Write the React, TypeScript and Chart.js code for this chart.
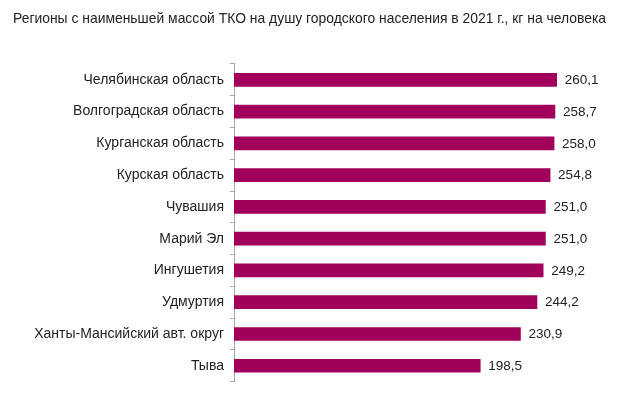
import React, { useEffect, useRef } from "react";
import { Chart, registerables } from "chart.js";

Chart.register(...registerables);

const TITLE = "Регионы с наименьшей массой ТКО на душу городского населения в 2021 г., кг на человека";
const REGIONS = [
  "Челябинская область",
  "Волгоградская область",
  "Курганская область",
  "Курская область",
  "Чувашия",
  "Марий Эл",
  "Ингушетия",
  "Удмуртия",
  "Ханты-Мансийский авт. округ",
  "Тыва",
];
const VALUES = [260.1, 258.7, 258.0, 254.8, 251.0, 251.0, 249.2, 244.2, 230.9, 198.5];

const BAR_COLOR = "#A1005B";
const TEXT_COLOR = "#222222";
const LABEL_FONT = "'Liberation Sans', Arial, sans-serif";

const valueLabels = {
  id: "valueLabels",
  afterDatasetsDraw(chart: any) {
    const ctx = chart.ctx;
    const meta = chart.getDatasetMeta(0);
    ctx.save();
    ctx.font = `13.5px ${LABEL_FONT}`;
    ctx.fillStyle = TEXT_COLOR;
    ctx.textAlign = "left";
    ctx.textBaseline = "middle";
    meta.data.forEach((bar: any, i: number) => {
      const v = VALUES[i];
      ctx.fillText(v.toFixed(1).replace(".", ","), bar.x + 8, bar.y + 0.5);
    });
    ctx.restore();
  },
};

export default function App() {
  const ref = useRef<HTMLCanvasElement | null>(null);
  useEffect(() => {
    document.body.style.margin = "0";
    const chart = new Chart(ref.current!, {
      type: "bar",
      data: {
        labels: REGIONS,
        datasets: [
          {
            data: VALUES,
            backgroundColor: BAR_COLOR,
            barThickness: 13,
          },
        ],
      },
      options: {
        indexAxis: "y",
        animation: false,
        responsive: false,
        layout: { padding: { left: 13, right: 8, top: 0, bottom: 12 } },
        plugins: {
          legend: { display: false },
          tooltip: { enabled: false },
          title: {
            display: true,
            text: TITLE,
            align: "start",
            color: TEXT_COLOR,
            font: { family: LABEL_FONT, size: 13.9, weight: "normal" },
            padding: { top: 11, bottom: 36.3 },
          },
        },
        scales: {
          x: { display: false, min: 0, max: 320 },
          y: {
            afterFit(scale: any) {
              scale.width = 221;
            },
            grid: {
              offset: true,
              drawOnChartArea: false,
              tickLength: 4,
              color: "#a6a6a6",
            },
            border: { color: "#a6a6a6" },
            ticks: {
              color: TEXT_COLOR,
              padding: 6,
              font: { family: LABEL_FONT, size: 14 },
            },
          },
        },
      },
      plugins: [valueLabels],
    });
    return () => chart.destroy();
  }, []);
  return (
    <div style={{ position: "absolute", left: 0, top: 0, width: 639, height: 396 }}>
      <canvas ref={ref} width={639} height={396} />
    </div>
  );
}
